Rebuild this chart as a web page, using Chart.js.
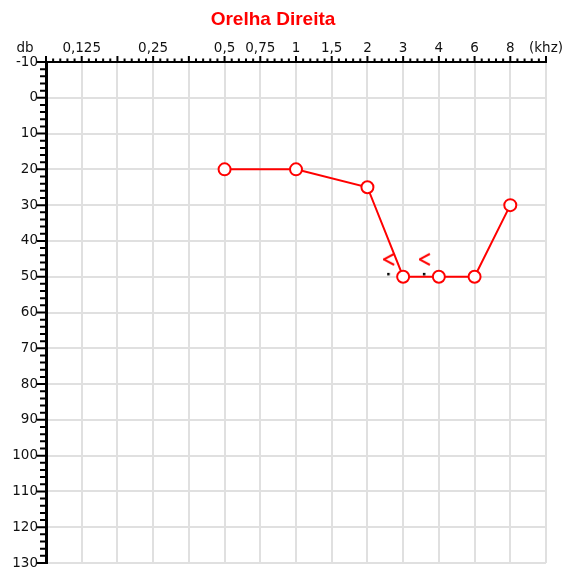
<!DOCTYPE html>
<html>
<head>
<meta charset="utf-8">
<script src="https://cdn.jsdelivr.net/npm/chart.js@4"></script>
<style>
html,body{margin:0;padding:0;background:#fff;}
#wrap{width:563px;height:570px;}
</style>
</head>
<body>
<div id="wrap"><canvas id="c" width="563" height="570"></canvas></div>
<script>
// ---- data ----
const xLabels = ['', '0,125', '', '0,25', '', '0,5', '0,75', '1', '1,5', '2', '3', '4', '6', '8', '(khz)'];
const airFreqs = ['0,5', '1', '2', '3', '4', '6', '8'];
const airDb = [20, 20, 25, 50, 50, 50, 30];
const boneFreqs = ['3', '4'];
const boneDb = [45, 45];
const yMin = -10, yMax = 130, yStep = 10;
const titleText = 'Orelha Direita';
const yUnit = 'db';

const tickFont = {family: "'DejaVu Sans', sans-serif", size: 13.5};

// ---- marker image for bone conduction "<" (drawn left of the point) ----
function makeBoneMarker() {
  const cv = document.createElement('canvas');
  cv.width = 40; cv.height = 40;
  const g = cv.getContext('2d');
  g.strokeStyle = '#ff0000';
  g.lineWidth = 2;
  g.lineJoin = 'miter';
  g.beginPath();
  g.moveTo(11, 15);
  g.lineTo(0.5, 20.5);
  g.lineTo(11, 26);
  g.stroke();
  g.fillStyle = '#000';
  g.fillRect(4, 34, 2.5, 2.5);
  return cv;
}

const tickPlugin = {
  id: 'axisTicks',
  afterDraw(chart) {
    const {ctx, chartArea: a, scales: {x, y}} = chart;
    ctx.save();
    ctx.strokeStyle = '#000';
    ctx.lineWidth = 2;
    ctx.beginPath();
    const n = xLabels.length;
    for (let i = 0; i < n; i++) {
      const p = x.getPixelForValue(i);
      ctx.moveTo(p, a.top); ctx.lineTo(p, a.top - 6);
      if (i < n - 1) {
        const q = x.getPixelForValue(i + 1);
        for (let k = 1; k < 5; k++) {
          const m = p + (q - p) * k / 5;
          ctx.moveTo(m, a.top); ctx.lineTo(m, a.top - 3.5);
        }
      }
    }
    for (let v = yMin; v <= yMax; v += 2) {
      const py = y.getPixelForValue(v);
      const len = (v % 10 === 0) ? 9 : 6;
      ctx.moveTo(a.left, py); ctx.lineTo(a.left - len, py);
    }
    ctx.stroke();
    ctx.fillStyle = '#111';
    ctx.font = tickFont.size + 'px ' + tickFont.family;
    ctx.textAlign = 'center';
    ctx.textBaseline = 'middle';
    ctx.fillText(yUnit, a.left - 21, a.top - 14);
    ctx.restore();
  }
};

new Chart(document.getElementById('c'), {
  type: 'line',
  data: {
    labels: xLabels,
    datasets: [
      {
        label: 'bone',
        data: boneFreqs.map((f, i) => ({x: f, y: boneDb[i]})),
        showLine: false,
        pointStyle: makeBoneMarker(),
        pointRadius: 1,
        borderColor: '#ff0000',
        backgroundColor: '#ff0000'
      },
      {
        label: 'air',
        data: airFreqs.map((f, i) => ({x: f, y: airDb[i]})),
        borderColor: '#ff0000',
        borderWidth: 2,
        tension: 0,
        pointRadius: 6,
        pointBorderWidth: 2,
        pointBackgroundColor: '#ffffff',
        pointBorderColor: '#ff0000'
      }
    ]
  },
  options: {
    responsive: false,
    animation: false,
    devicePixelRatio: 1,
    layout: {autoPadding: false, padding: {left: 0, right: 17, top: 0, bottom: 7}},
    plugins: {
      legend: {display: false},
      tooltip: {enabled: false},
      title: {
        display: true,
        text: titleText,
        color: '#ff0000',
        font: {family: "'Liberation Sans', Arial, sans-serif", size: 19, weight: 'bold'},
        padding: {top: 8, bottom: 4}
      }
    },
    scales: {
      x: {
        type: 'category',
        position: 'top',
        grid: {color: '#e0e0e0', lineWidth: 2, drawTicks: false},
        border: {color: '#000', width: 2},
        ticks: {autoSkip: false, maxRotation: 0, padding: 5, color: '#111', font: tickFont},
        afterFit(s) { s.height = 27.2; s.paddingLeft = 0; s.paddingRight = 0; }
      },
      y: {
        type: 'linear',
        reverse: true,
        min: yMin,
        max: yMax,
        grid: {color: '#e0e0e0', lineWidth: 2, drawTicks: false},
        border: {color: '#000', width: 3},
        ticks: {stepSize: yStep, padding: 8, color: '#111', font: tickFont},
        afterFit(s) { s.width = 46; s.paddingTop = 0; s.paddingBottom = 0; }
      }
    }
  },
  plugins: [tickPlugin]
});
</script>
</body>
</html>
